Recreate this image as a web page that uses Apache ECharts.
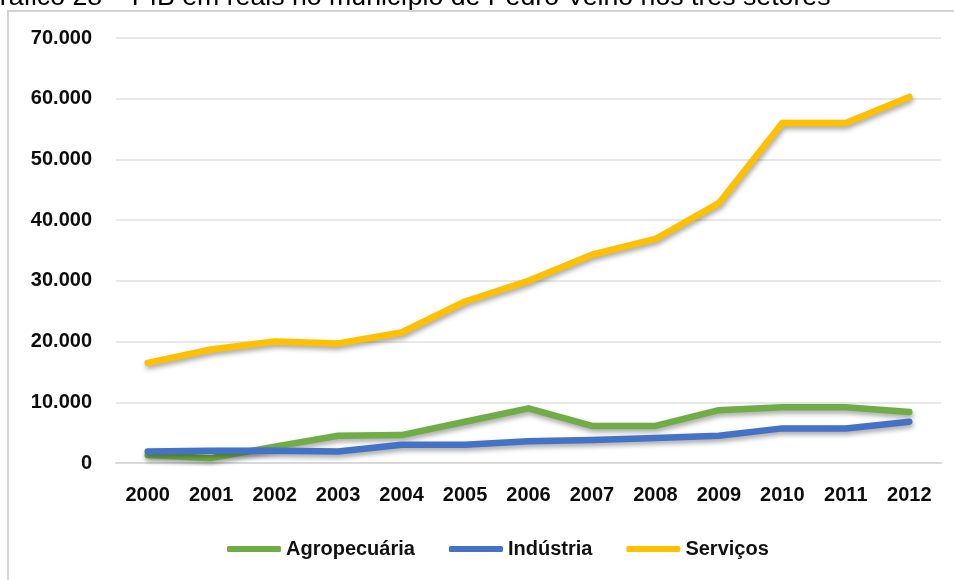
<!DOCTYPE html>
<html>
<head>
<meta charset="utf-8">
<script src="https://cdn.jsdelivr.net/npm/echarts@6/dist/echarts.min.js"></script>
<style>
  html, body { margin: 0; padding: 0; background: #fff; }
  #chart { width: 954px; height: 580px; }
</style>
</head>
<body>
<div id="chart"></div>
<script>
const titleText = 'Gráfico 28 – PIB em reais no município de Pedro Velho nos três setores';
const categories = ['2000','2001','2002','2003','2004','2005','2006','2007','2008','2009','2010','2011','2012'];
const agropecuaria = [1300, 800, 2700, 4500, 4600, 6800, 9000, 6100, 6100, 8700, 9200, 9200, 8400];
const industria = [1900, 2000, 2000, 1900, 3000, 3000, 3600, 3800, 4100, 4500, 5700, 5700, 6800];
const servicos = [16500, 18700, 20000, 19700, 21500, 26600, 30000, 34300, 36900, 42800, 56000, 56000, 60300];
const seriesNames = ['Agropecuária', 'Indústria', 'Serviços'];
const colors = ['#70AD47', '#4472C4', '#FFC000'];

const chart = echarts.init(document.getElementById('chart'), null, { renderer: 'canvas' });
const FONT = '"Liberation Sans", Arial, sans-serif';

function fmt(v) {
  return String(v).replace(/\B(?=(\d{3})+(?!\d))/g, '.');
}

function lineSeries(name, data, color) {
  return {
    name: name,
    type: 'line',
    data: data,
    symbol: 'none',
    smooth: false,
    lineStyle: {
      width: 6.5,
      color: color,
      cap: 'round',
      join: 'round',
      shadowColor: 'rgba(0,0,0,0.35)',
      shadowBlur: 5,
      shadowOffsetX: 1,
      shadowOffsetY: 3
    },
    itemStyle: { color: color },
    emphasis: { disabled: true }
  };
}

chart.setOption({
  animation: false,
  backgroundColor: '#ffffff',
  graphic: [
    {
      type: 'rect',
      shape: { x: 8, y: 11, width: 1000, height: 650 },
      style: { fill: 'none', stroke: '#d4d4d4', lineWidth: 2 },
      silent: true
    },
    {
      type: 'text',
      x: -21,
      y: -2,
      style: {
        text: titleText,
        font: '26.7px ' + FONT,
        fill: '#000',
        verticalAlign: 'middle',
        align: 'left'
      },
      silent: true
    }
  ],
  grid: { left: 116, right: 13, top: 38, bottom: 117, containLabel: false },
  legend: {
    data: seriesNames.map(function (n) { return { name: n, icon: 'roundRect' }; }),
    left: 222,
    top: 534,
    itemWidth: 54,
    itemHeight: 6,
    itemGap: 34,
    textStyle: { fontFamily: FONT, fontSize: 20, fontWeight: 'bold', color: '#111' }
  },
  xAxis: {
    type: 'category',
    data: categories,
    boundaryGap: true,
    axisLine: { show: true, lineStyle: { color: '#d9d9d9', width: 2 } },
    axisTick: { show: false },
    axisLabel: { fontFamily: FONT, fontSize: 20, fontWeight: 'bold', color: '#0d0d0d', margin: 22 },
    splitLine: { show: false }
  },
  yAxis: {
    type: 'value',
    min: 0,
    max: 70000,
    interval: 10000,
    axisLine: { show: false },
    axisTick: { show: false },
    axisLabel: {
      fontFamily: FONT, fontSize: 20, fontWeight: 'bold', color: '#0d0d0d', margin: 24,
      formatter: function (v) { return fmt(v); }
    },
    splitLine: { show: true, lineStyle: { color: '#e0e0e0', width: 1.5 } }
  },
  series: [
    lineSeries(seriesNames[0], agropecuaria, colors[0]),
    lineSeries(seriesNames[1], industria, colors[1]),
    lineSeries(seriesNames[2], servicos, colors[2])
  ]
});
</script>
</body>
</html>
